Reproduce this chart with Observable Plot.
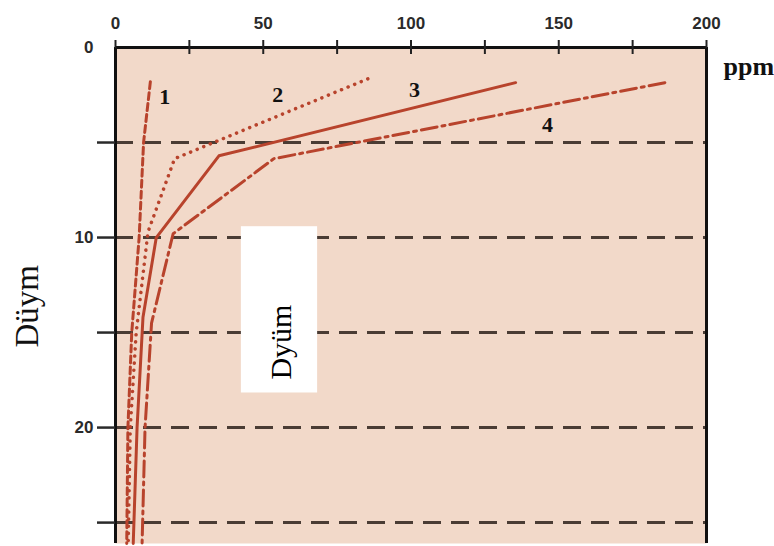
<!DOCTYPE html>
<html>
<head>
<meta charset="utf-8">
<script src="https://cdn.jsdelivr.net/npm/d3@7"></script>
<script src="https://cdn.jsdelivr.net/npm/@observablehq/plot@0.6"></script>
<style>
  html, body { margin: 0; padding: 0; background: white; }
  #chart { width: 774px; height: 546px; }
</style>
</head>
<body>
<div id="chart"></div>
<script>
// ---- data ----
const xTickValues = [0, 25, 50, 75, 100, 125, 150, 175, 200];
const xTickLabels = [0, 50, 100, 150, 200];
const yTickLabels = [0, 10, 20];
const yTickMarks = [5, 10, 15, 20, 25];
const gridDepths = [5, 10, 15, 20, 25];

const series1Ppm   = [11.8, 9.5, 8.0, 5.5, 4.2, 3.8];
const series1Depth = [1.8, 5.0, 10.0, 15.0, 20.0, 26.1];
const series2Ppm   = [85.4, 20.0, 11.0, 7.0, 5.0, 4.3];
const series2Depth = [1.65, 5.85, 9.7, 15.0, 20.0, 26.1];
const series3Ppm   = [135.4, 35.0, 13.8, 9.3, 7.3, 6.0];
const series3Depth = [1.85, 5.7, 10.0, 14.2, 20.0, 26.1];
const series4Ppm   = [185.9, 53.6, 19.5, 12.2, 10.0, 9.0];
const series4Depth = [1.85, 5.85, 9.8, 14.5, 20.0, 26.1];

const seriesNames = ["1", "2", "3", "4"];
const labelPpm   = [16.7, 54.9, 101.2, 146.2];
const labelDepth = [2.6, 2.5, 2.25, 4.1];

const xLabel = "ppm";
const yLabel = "Düym";
const boxLabel = "Dyüm";
const boxPpm = [42.6, 68.4];
const boxDepth = [9.43, 18.18];
const boxTextPpm = 56.0;
const boxTextDepth = 15.5;

// ---- build ----
const toPts = (xs, ys) => xs.map((x, i) => ({ppm: x, depth: ys[i]}));
const s1 = toPts(series1Ppm, series1Depth);
const s2 = toPts(series2Ppm, series2Depth);
const s3 = toPts(series3Ppm, series3Depth);
const s4 = toPts(series4Ppm, series4Depth);
const labels = seriesNames.map((t, i) => ({t, ppm: labelPpm[i], depth: labelDepth[i]}));

const lineColor = "#b8432c";
const bg = "#f2d9c9";
const sans = "Liberation Sans, Arial, sans-serif";
const serif = "Liberation Serif, Times New Roman, serif";

const chart = Plot.plot({
  width: 774,
  height: 546,
  marginLeft: 115,
  marginRight: 68,
  marginTop: 47,
  marginBottom: 3,
  style: {background: "white", fontFamily: sans, overflow: "visible"},
  x: {domain: [0, 200], axis: null, label: null},
  y: {domain: [0, 26.1], reverse: true, axis: null, label: null},
  marks: [
    Plot.frame({fill: bg, stroke: "none"}),
    Plot.ruleY(gridDepths, {stroke: "#4a3c34", strokeWidth: 3, strokeDasharray: "18,10"}),
    Plot.line(s1, {x: "ppm", y: "depth", stroke: lineColor, strokeWidth: 3, strokeDasharray: "7,4"}),
    Plot.line(s2, {x: "ppm", y: "depth", stroke: lineColor, strokeWidth: 3.5, strokeDasharray: "0.1,7", strokeLinecap: "round"}),
    Plot.line(s3, {x: "ppm", y: "depth", stroke: lineColor, strokeWidth: 3}),
    Plot.line(s4, {x: "ppm", y: "depth", stroke: lineColor, strokeWidth: 3, strokeDasharray: "16,5,3,5"}),
    Plot.text(labels, {x: "ppm", y: "depth", text: "t", fontSize: 22, fontWeight: "bold", fontFamily: serif, fill: "#111"}),
    Plot.rect([{}], {x1: () => boxPpm[0], x2: () => boxPpm[1], y1: () => boxDepth[0], y2: () => boxDepth[1], fill: "white"}),
    Plot.text([boxLabel], {x: () => boxTextPpm, y: () => boxTextDepth, text: d => d, rotate: -90, fontSize: 30, fontFamily: serif, fill: "#000"}),
    // frame borders
    Plot.ruleX([0, 200], {stroke: "#111", strokeWidth: 3}),
    Plot.ruleY([0], {stroke: "#111", strokeWidth: 3}),
    // top axis
    Plot.axisX({anchor: "top", label: null, ticks: xTickValues, tickSize: 8, tickPadding: 11,
      tickFormat: d => xTickLabels.includes(d) ? String(d) : "",
      fontSize: 17, fontWeight: "bold", fill: "#2a2a2a", stroke: "#222", strokeWidth: 2}),
    Plot.axisX({anchor: "top", label: null, ticks: xTickValues.filter(d => d > 0 && d < 200), tickSize: -6, tickFormat: () => "",
      stroke: "#222", strokeWidth: 2}),
    // left axis
    Plot.axisY({anchor: "left", label: null, ticks: yTickMarks, tickSize: 18, tickFormat: () => "", stroke: "#2a2a2a", strokeWidth: 2.5}),
    Plot.axisY({anchor: "left", label: null, ticks: yTickLabels, tickSize: 0, tickPadding: 22,
      tickFormat: d => String(d), fontSize: 17, fontWeight: "bold", fill: "#2a2a2a"}),
    // axis titles
    Plot.text([xLabel], {frameAnchor: "top-right", dx: 17, dy: 9, textAnchor: "start", text: d => d,
      fontSize: 26, fontWeight: "bold", fontFamily: serif, fill: "#111"}),
    Plot.text([yLabel], {frameAnchor: "left", dx: -88, dy: 52, rotate: -90, text: d => d,
      fontSize: 33, fontFamily: serif, fill: "#111"})
  ]
});
document.getElementById("chart").appendChild(chart);
</script>
</body>
</html>
